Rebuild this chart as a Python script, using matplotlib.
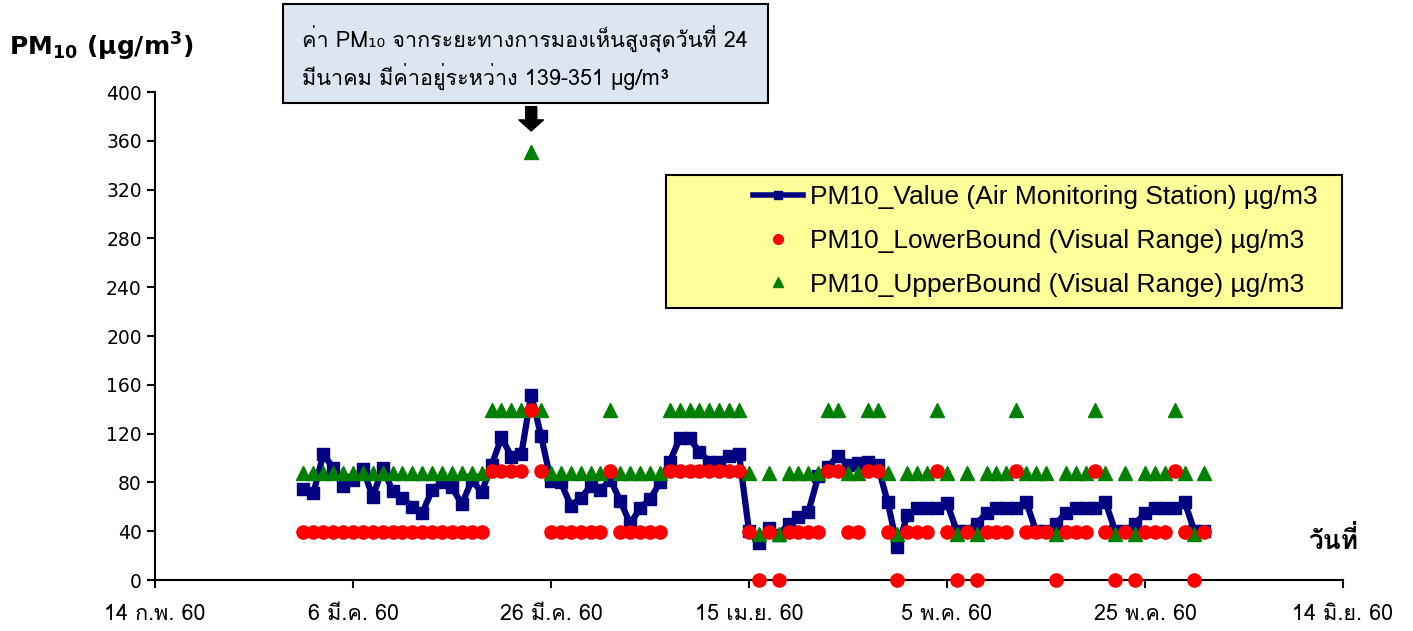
import matplotlib
matplotlib.use('Agg')
import matplotlib.pyplot as plt
from matplotlib.patches import Rectangle
from matplotlib.lines import Line2D
from datetime import date, timedelta

# daily data, 1 Mar 2017 (2560) .. 31 May 2017
first_day = date(2017, 3, 1)

pm10_value = [
    75, 71, 103, 92, 77, 82, 91, 68, 92, 73, 67, 60, 55, 74, 80,            # 1-15 Mar
    76, 62, 82, 72, 94, 117, 101, 103, 152, 118, 81, 80, 61, 67, 77, 74,    # 16-31 Mar
    82, 65, 46, 59, 66, 80, 97, 116, 116, 105, 97, 97, 102, 103, 40,        # 1-15 Apr
    30, 43, 37, 46, 52, 56, 85, 93, 102, 94, 96, 97, 94, 64, 27,            # 16-30 Apr
    53, 59, 59, 59, 63, 40, 40, 46, 55, 59, 59, 59, 64, 40, 40, 46,         # 1-16 May
    55, 59, 59, 59, 64, 40, 40, 46, 55, 59, 59, 59, 64, 40, 40,             # 17-31 May
]

lower_bound = [
    39, 39, 39, 39, 39, 39, 39, 39, 39, 39, 39, 39, 39, 39, 39, 39, 39, 39, 39,
    89, 89, 89, 89, 139, 89, 39, 39, 39, 39, 39, 39,
    89, 39, 39, 39, 39, 39, 89, 89, 89, 89, 89, 89, 89, 89, 39,
    0, 39, 0, 39, 39, 39, 39, 89, 89, 39, 39, 89, 89, 39, 0,
    39, 39, 39, 89, 39, 0, 39, 0, 39, 39, 39, 89, 39, 39, 39, 0,
    39, 39, 39, 89, 39, 0, 39, 0, 39, 39, 39, 89, 39, 0, 39,
]

upper_bound = [
    88, 88, 88, 88, 88, 88, 88, 88, 88, 88, 88, 88, 88, 88, 88, 88, 88, 88, 88,
    139, 139, 139, 139, 351, 139, 88, 88, 88, 88, 88, 88,
    139, 88, 88, 88, 88, 88, 139, 139, 139, 139, 139, 139, 139, 139, 88,
    38, 88, 38, 88, 88, 88, 88, 139, 139, 88, 88, 139, 139, 88, 38,
    88, 88, 88, 139, 88, 38, 88, 38, 88, 88, 88, 139, 88, 88, 88, 38,
    88, 88, 88, 139, 88, 38, 88, 38, 88, 88, 88, 139, 88, 38, 88,
]

tick_dates = [date(2017, 2, 14), date(2017, 3, 6), date(2017, 3, 26), date(2017, 4, 15),
              date(2017, 5, 5), date(2017, 5, 25), date(2017, 6, 14)]
tick_labels = ['14 ก.พ. 60', '6 มี.ค. 60', '26 มี.ค. 60', '15 เม.ย. 60',
               '5 พ.ค. 60', '25 พ.ค. 60', '14 มิ.ย. 60']

legend_labels = ['PM10_Value (Air Monitoring Station) µg/m3',
                 'PM10_LowerBound (Visual Range) µg/m3',
                 'PM10_UpperBound (Visual Range) µg/m3']

note_text = 'ค่า PM₁₀ จากระยะทางการมองเห็นสูงสุดวันที่ 24\nมีนาคม มีค่าอยู่ระหว่าง 139-351 µg/m³'

fam = ['Loma', 'DejaVu Sans']
plt.rcParams['mathtext.default'] = 'regular'
W, H = 1413, 631

days = [first_day + timedelta(days=i) for i in range(len(pm10_value))]

fig = plt.figure(figsize=(W / 100, H / 100), dpi=100)
ax = fig.add_axes([155 / W, 1 - 580 / H, (1343 - 155) / W, (580 - 92) / H])

ax.plot(days, pm10_value, color='#000080', lw=4.5, marker='s', ms=8.5,
        zorder=2, clip_on=False)
ax.plot(days, upper_bound, ls='none', marker='^', color='#008000', ms=9.5,
        zorder=3, clip_on=False)
ax.plot(days, lower_bound, ls='none', marker='o', color='#ff0000', ms=9.5,
        zorder=4, clip_on=False)

ax.set_xlim(tick_dates[0], tick_dates[-1])
ax.set_ylim(0, 400)
ax.set_yticks(range(0, 401, 40))
ax.set_xticks(tick_dates)
ax.set_xticklabels(tick_labels, family=fam, fontsize=15.5)
for t in ax.get_yticklabels():
    t.set_fontsize(13.5)
    t.set_family('DejaVu Sans')
ax.tick_params(direction='out', length=6, width=1.5)
ax.tick_params(axis='x', pad=11)
for s in ['top', 'right']:
    ax.spines[s].set_visible(False)
for s in ['left', 'bottom']:
    ax.spines[s].set_linewidth(1.5)

fig.text(9 / W, 1 - 47 / H, r'PM$_{10}$ (µg/m$^{3}$)', fontsize=18, fontweight='bold',
         family='DejaVu Sans', va='center', ha='left')
fig.text(1358 / W, 1 - 540 / H, 'วันที่', fontsize=19, fontweight='bold',
         family=fam, ha='right', va='center')

# legend box
box = Rectangle((666 / W, 1 - 308 / H), (1342 - 666) / W, (308 - 175) / H,
                transform=fig.transFigure, facecolor='#ffff99', edgecolor='black',
                lw=1.5, zorder=5)
fig.patches.append(box)
handles = [Line2D([], [], color='#000080', lw=4, marker='s', ms=6),
           Line2D([], [], ls='none', marker='o', color='#ff0000', ms=7),
           Line2D([], [], ls='none', marker='^', color='#008000', ms=7)]
leg = fig.legend(handles, legend_labels, loc='center left',
                 bbox_to_anchor=(740 / W, 1 - 241 / H), frameon=False,
                 prop={'family': 'Liberation Sans', 'size': 19},
                 handlelength=1.9, handletextpad=0.25, labelspacing=0.74,
                 borderpad=0)
leg.set_zorder(6)

# note box with arrow
note = Rectangle((283 / W, 1 - 103 / H), (768 - 283) / W, (103 - 4) / H,
                 transform=fig.transFigure, facecolor='#dce6f2', edgecolor='black',
                 lw=1.5, zorder=5)
fig.patches.append(note)
fig.text(302 / W, 1 - 58 / H, note_text, family=fam, fontsize=15.5,
         va='center', ha='left', linespacing=1.5, zorder=6)
ax.annotate('', xy=(date(2017, 3, 24), 368), xytext=(date(2017, 3, 24), 388),
            arrowprops=dict(arrowstyle='simple,head_width=1.1,head_length=0.5,tail_width=0.5',
                            color='black', mutation_scale=16, shrinkA=0, shrinkB=0),
            annotation_clip=False)

fig.savefig('out.png', dpi=100)
